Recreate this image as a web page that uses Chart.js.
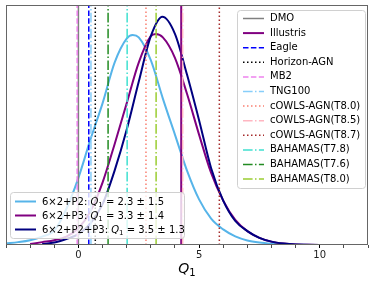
<!DOCTYPE html>
<html>
<head>
<meta charset="utf-8">
<script src="https://cdn.jsdelivr.net/npm/chart.js@4.4.0/dist/chart.umd.min.js"></script>
<style>
  html, body { margin: 0; padding: 0; background: #fff; }
</style>
</head>
<body>
<canvas id="chart" width="374" height="282"></canvas>
<script>
// posterior curves
var p2Q   = [-3, -2.5, -2, -1.5, -1, -0.5, 0, 0.5, 1, 1.5, 2, 2.25, 2.5, 3, 3.5, 4, 4.5, 5, 5.5, 6, 6.5, 7, 7.5, 8, 8.5, 9, 9.5, 10];
var p2Val = [0.007, 0.012, 0.02, 0.035, 0.06, 0.15, 0.28, 0.44, 0.59, 0.76, 0.86, 0.875, 0.865, 0.77, 0.61, 0.46, 0.31, 0.19, 0.11, 0.065, 0.036, 0.019, 0.01, 0.005, 0.002, 0.001, 0.0005, 0];

var p3Q   = [-2, -1.5, -1, -0.5, 0, 0.5, 1, 1.5, 2, 2.5, 3, 3.2, 3.5, 4, 4.5, 5, 5.5, 6, 6.5, 7, 7.5, 8, 8.5, 9, 9.5, 10];
var p3Val = [0.004, 0.012, 0.02, 0.035, 0.07, 0.14, 0.26, 0.42, 0.59, 0.76, 0.87, 0.879, 0.865, 0.78, 0.63, 0.46, 0.3, 0.185, 0.105, 0.058, 0.03, 0.014, 0.006, 0.002, 0.001, 0];

var p23Q   = [-1.5, -1, -0.5, 0, 0.5, 1, 1.5, 2, 2.5, 3, 3.48, 4, 4.5, 5, 5.5, 6, 6.5, 7, 7.5, 8, 8.5, 9, 9.5, 10];
var p23Val = [0.004, 0.01, 0.025, 0.045, 0.09, 0.17, 0.31, 0.48, 0.68, 0.87, 0.951, 0.88, 0.71, 0.52, 0.32, 0.185, 0.1, 0.058, 0.03, 0.014, 0.006, 0.002, 0.001, 0];

var fitNames = ["6\u00d72+P2: ", "6\u00d72+P3: ", "6\u00d72+P2+P3: "];
var fitText  = [" = 2.3 \u00b1 1.5", " = 3.3 \u00b1 1.4", " = 3.5 \u00b1 1.3"];

// simulation predictions (vertical lines)
var simNames = ["DMO", "Illustris", "Eagle", "Horizon-AGN", "MB2", "TNG100",
  "cOWLS-AGN(T8.0)", "cOWLS-AGN(T8.5)", "cOWLS-AGN(T8.7)",
  "BAHAMAS(T7.8)", "BAHAMAS(T7.6)", "BAHAMAS(T8.0)"];
var simQ1 = [0.0, 4.26, 0.43, 0.70, -0.05, 0.52, 2.80, 4.32, 5.84, 2.02, 1.23, 3.22];

var xTicks = [0, 5, 10];

// styles
var fitColors = ["#56b4e9", "#800080", "#000080"];
var simColors = ["#808080", "#800080", "#0000ff", "#000000", "#ee82ee", "#87cefa",
  "#fa8072", "#ffb6c1", "#a52a2a", "#40e0d0", "#228b22", "#9acd32"];
var DASHED = [5.5, 2.4], DOTTED = [1.5, 2.5], DASHDOT = [9.6, 2.4, 1.5, 2.4];
var simDash = [[], [], DASHED, DOTTED, DASHED, DASHDOT, DOTTED, DASHDOT, DOTTED, DASHDOT, DASHDOT, DASHDOT];
var simWidth = [1.5, 2, 1.5, 1.5, 1.5, 1.5, 1.5, 1.5, 1.5, 1.5, 1.5, 1.5];

function pts(xs, ys) {
  var out = [];
  for (var i = 0; i < xs.length; i++) out.push({ x: xs[i], y: ys[i] });
  return out;
}

var datasets = [];
var curves = [[p2Q, p2Val], [p3Q, p3Val], [p23Q, p23Val]];
for (var i = 0; i < curves.length; i++) {
  datasets.push({
    label: fitNames[i],
    data: pts(curves[i][0], curves[i][1]),
    borderColor: fitColors[i],
    borderWidth: 2,
    pointRadius: 0,
    fill: false,
    cubicInterpolationMode: "monotone",
    order: 20 - i
  });
}
for (var j = 0; j < simNames.length; j++) {
  datasets.push({
    label: simNames[j],
    data: [{ x: simQ1[j], y: 0 }, { x: simQ1[j], y: 1 }],
    borderColor: simColors[j],
    borderWidth: simWidth[j],
    borderDash: simDash[j],
    pointRadius: 0,
    fill: false,
    order: 12 - j
  });
}

function roundBox(ctx, x, y, w, h, r) {
  ctx.beginPath();
  ctx.moveTo(x + r, y);
  ctx.lineTo(x + w - r, y);
  ctx.quadraticCurveTo(x + w, y, x + w, y + r);
  ctx.lineTo(x + w, y + h - r);
  ctx.quadraticCurveTo(x + w, y + h, x + w - r, y + h);
  ctx.lineTo(x + r, y + h);
  ctx.quadraticCurveTo(x, y + h, x, y + h - r);
  ctx.lineTo(x, y + r);
  ctx.quadraticCurveTo(x, y, x + r, y);
  ctx.closePath();
  ctx.fillStyle = "rgba(255,255,255,0.8)";
  ctx.fill();
  ctx.strokeStyle = "#d0d0d0";
  ctx.lineWidth = 1;
  ctx.stroke();
}

function handle(ctx, x, y, color, width, dash) {
  ctx.beginPath();
  ctx.setLineDash(dash);
  ctx.strokeStyle = color;
  ctx.lineWidth = width;
  ctx.moveTo(x, y);
  ctx.lineTo(x + 21, y);
  ctx.stroke();
  ctx.setLineDash([]);
}

var extras = {
  id: "extras",
  afterDraw: function (chart) {
    var ctx = chart.ctx, a = chart.chartArea;
    ctx.save();
    // frame
    ctx.strokeStyle = "#666";
    ctx.lineWidth = 1;
    ctx.strokeRect(a.left + 0.5, a.top + 0.5, a.right - a.left - 1, a.bottom - a.top - 1);

    // simulations legend
    roundBox(ctx, 237.5, 10.5, 128, 178, 3);
    ctx.textBaseline = "middle";
    ctx.font = "10px 'DejaVu Sans'";
    for (var k = 0; k < simNames.length; k++) {
      var yy = 18.5 + k * 14.6;
      handle(ctx, 243, yy, simColors[k], simWidth[k], simDash[k]);
      ctx.fillStyle = "#000";
      ctx.fillText(simNames[k], 270, yy);
    }

    // fits legend
    roundBox(ctx, 10.5, 192.5, 174, 46, 3);
    for (var m = 0; m < fitNames.length; m++) {
      var y2 = 201.5 + m * 14;
      handle(ctx, 15, y2, fitColors[m], 2, []);
      var x2 = 42;
      ctx.fillStyle = "#000";
      ctx.textBaseline = "alphabetic";
      ctx.font = "10px 'DejaVu Sans'";
      ctx.fillText(fitNames[m], x2, y2 + 3.6);
      x2 += ctx.measureText(fitNames[m]).width;
      ctx.font = "italic 10px 'DejaVu Sans'";
      ctx.fillText("Q", x2, y2 + 3.6);
      x2 += ctx.measureText("Q").width;
      ctx.font = "7px 'DejaVu Sans'";
      ctx.fillText("1", x2, y2 + 5.6);
      x2 += ctx.measureText("1").width;
      ctx.font = "10px 'DejaVu Sans'";
      ctx.fillText(fitText[m], x2, y2 + 3.6);
    }

    // x axis title
    ctx.font = "italic 14px 'DejaVu Sans'";
    var wq = ctx.measureText("Q").width;
    ctx.font = "10px 'DejaVu Sans'";
    var w1 = ctx.measureText("1").width;
    var x0 = (a.left + a.right) / 2 - (wq + w1) / 2;
    ctx.fillStyle = "#000";
    ctx.textBaseline = "alphabetic";
    ctx.font = "italic 14px 'DejaVu Sans'";
    ctx.fillText("Q", x0, 273);
    ctx.font = "10px 'DejaVu Sans'";
    ctx.fillText("1", x0 + wq, 276);
    ctx.restore();
  }
};

new Chart(document.getElementById("chart"), {
  type: "line",
  data: { datasets: datasets },
  options: {
    responsive: false,
    animation: false,
    devicePixelRatio: 1,
    layout: { padding: { left: 6, right: 6, top: 5, bottom: 0 } },
    plugins: { legend: { display: false }, tooltip: { enabled: false } },
    scales: {
      x: {
        type: "linear",
        min: -3,
        max: 12,
        afterFit: function (scale) { scale.height = 37; },
        border: { display: false },
        grid: { drawOnChartArea: false, drawTicks: true, tickLength: 3, color: "#000",
          tickWidth: function (c) { return xTicks.indexOf(c.tick.value) >= 0 ? 1 : 0.7; } },
        ticks: {
          stepSize: 1,
          padding: 1,
          maxRotation: 0,
          autoSkip: false,
          color: "#222",
          font: { family: "'DejaVu Sans'", size: 10 },
          callback: function (v) { return xTicks.indexOf(v) >= 0 ? String(v) : ""; }
        }
      },
      y: { display: false, min: 0, max: 1 }
    }
  },
  plugins: [extras]
});
</script>
</body>
</html>
